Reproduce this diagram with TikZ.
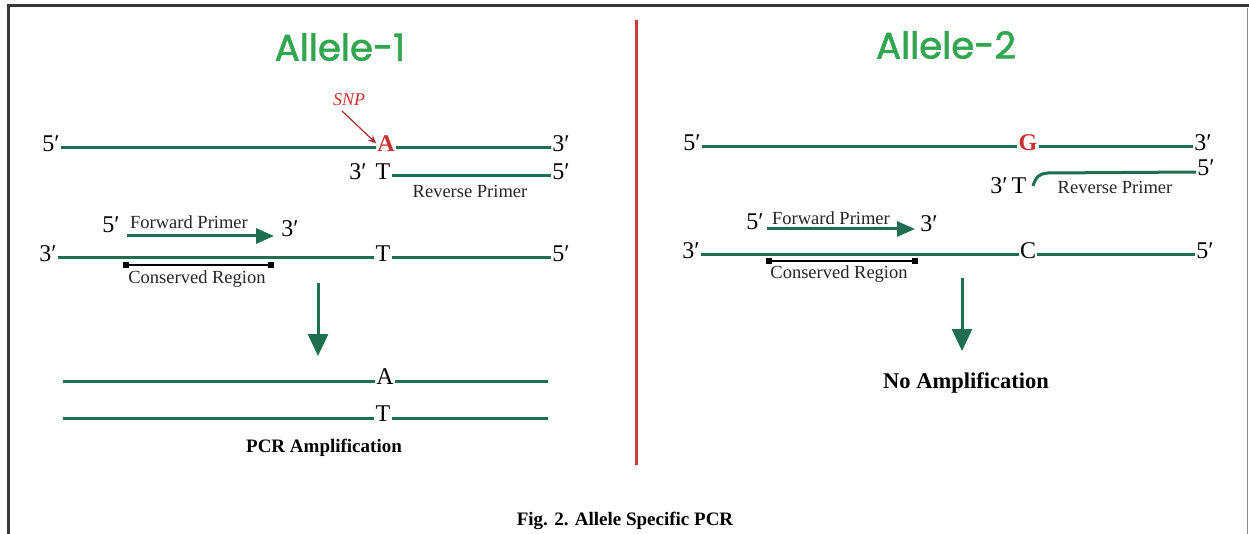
\documentclass[tikz,border=0pt]{standalone}
\usepackage{fontspec}
\setmainfont{Liberation Serif}
\newfontfamily\titlefont[FakeBold=1.6]{Poppins}
\usetikzlibrary{arrows.meta}
\definecolor{strandc}{RGB}{30,110,80}
\definecolor{titlec}{RGB}{50,165,80}
\definecolor{snpred}{RGB}{200,50,50}
\definecolor{divred}{RGB}{205,60,60}
\definecolor{framec}{RGB}{55,55,55}
\tikzset{
  lab/.style={font=\fontsize{24}{26}\selectfont, inner sep=1pt, text height=1.5ex, text depth=0pt},
  base/.style={lab, text=snpred, font=\fontsize{24}{26}\selectfont\bfseries},
  small/.style={font=\fontsize{18.5}{20}\selectfont, inner sep=0pt, text=black!85},
  bold/.style={font=\fontsize{19}{21}\selectfont\bfseries, inner sep=0pt},
  title/.style={font=\fontsize{37}{40}\selectfont\titlefont, text=titlec, inner sep=0pt},
  strand/.style={draw=strandc, line width=3pt},
  primer/.style={draw=strandc, line width=3pt, -{Triangle[length=18pt,width=15pt]}},
  down/.style={draw=strandc, line width=3pt, -{Triangle[length=22pt,width=20pt]}},
  bracket/.style={draw=black, line width=2.5pt},
}
\begin{document}
\begin{tikzpicture}[x=1pt,y=-1pt]
\useasboundingbox (0,0) rectangle (1249,534);
\fill[white] (0,0) rectangle (1249,534);
% frame
\draw[framec, line width=3pt] (8,534) -- (8,6) -- (1249,6);
\draw[black!45, line width=1pt] (1247,8) -- (1247,534);
% divider
\coordinate (dv1) at (636,20);
\coordinate (dv2) at (636,465);
\draw[divred, line width=3pt] (dv1) -- (dv2);

% ---------------- Allele-1 ----------------
\node[title] (t1) at (340,47) {Allele-1};
\node[font=\fontsize{18}{20}\selectfont\itshape, text=snpred, inner sep=0pt] (snp) at (349,100) {SNP};
\node[lab] (a5a) at (51,148) {5′};
\node[base] (aA) at (386,148) {A};
\node[lab] (a3a) at (561,148) {3′};
\draw[strand] (a5a.east) -- (aA.west);
\draw[strand] (aA.east) -- (a3a.west);
\coordinate (snpt) at (342,111);
\draw[snpred!85!black, line width=1.2pt, -{Stealth[length=8pt,width=7pt]}] (snpt) -- (aA.north west);

\node[lab] (a3b) at (358,176) {3′};
\node[lab] (aTb) at (383,176) {T};
\node[lab] (a5b) at (561,176) {5′};
\draw[strand] (aTb.east) -- (a5b.west);
\node[small] (arev) at (470,191) {Reverse Primer};

\node[lab] (a5f) at (111,229) {5′};
\node[small] (afwd) at (189,222) {Forward Primer};
\node[lab] (a3f) at (290,233) {3′};
\coordinate (af1) at (127,236);
\coordinate (af2) at (274,236);
\draw[primer] (af1) -- (af2);

\node[lab] (a3c) at (48,258) {3′};
\node[lab] (aTc) at (383,258) {T};
\node[lab] (a5c) at (561,258) {5′};
\draw[strand] (a3c.east) -- (aTc.west);
\draw[strand] (aTc.east) -- (a5c.west);

\coordinate (ab1) at (124,265);
\coordinate (ab2) at (273,265);
\draw[bracket] (ab1) -- (ab2);
\fill[black] ([shift={(-1,-3)}]ab1) rectangle ([shift={(5,3)}]ab1);
\fill[black] ([shift={(-5,-3)}]ab2) rectangle ([shift={(1,3)}]ab2);
\node[small] (acons) at (197,279) {Conserved Region};

\coordinate (ad1) at (318,283);
\coordinate (ad2) at (318,356);
\draw[down] (ad1) -- (ad2);

\coordinate (a5l) at (63,381);
\node[lab] (aA2) at (385,381) {A};
\coordinate (a5r) at (548,381);
\draw[strand] (a5l) -- (aA2.west);
\draw[strand] (aA2.east) -- (a5r);
\coordinate (a6l) at (63,418);
\node[lab] (aT2) at (383,418) {T};
\coordinate (a6r) at (548,418);
\draw[strand] (a6l) -- (aT2.west);
\draw[strand] (aT2.east) -- (a6r);

\node[bold] (pcr) at (324,448) {PCR Amplification};

% ---------------- Allele-2 ----------------
\node[title] (t2) at (946,45) {Allele-2};
\node[lab] (b5a) at (692,147) {5′};
\node[base] (bG) at (1028,147) {G};
\node[lab] (b3a) at (1203,147) {3′};
\draw[strand] (b5a.east) -- (bG.west);
\draw[strand] (bG.east) -- (b3a.west);

\node[lab] (b3b) at (999,190) {3′};
\node[lab] (bTb) at (1019,190) {T};
\node[lab] (b5b) at (1206,172) {5′};
\coordinate (bc1) at (1033,186);
\draw[strand] (bc1) .. controls (1036,177) and (1038,174) .. (1048,173) -- (b5b.west);
\node[small] (brev) at (1115,187) {Reverse Primer};

\node[lab] (b5f) at (755,226) {5′};
\node[small] (bfwd) at (831,218) {Forward Primer};
\node[lab] (b3f) at (929,228) {3′};
\coordinate (bf1) at (767,229);
\coordinate (bf2) at (915,229);
\draw[primer] (bf1) -- (bf2);

\node[lab] (b3c) at (691,255) {3′};
\node[lab] (bC) at (1028,255) {C};
\node[lab] (b5c) at (1205,255) {5′};
\draw[strand] (b3c.east) -- (bC.west);
\draw[strand] (bC.east) -- (b5c.west);

\coordinate (bb1) at (767,261);
\coordinate (bb2) at (917,261);
\draw[bracket] (bb1) -- (bb2);
\fill[black] ([shift={(-1,-3)}]bb1) rectangle ([shift={(5,3)}]bb1);
\fill[black] ([shift={(-5,-3)}]bb2) rectangle ([shift={(1,3)}]bb2);
\node[small] (bcons) at (839,274) {Conserved Region};

\coordinate (bd1) at (962,278);
\coordinate (bd2) at (962,351);
\draw[down] (bd1) -- (bd2);

\node[font=\fontsize{22.5}{24}\selectfont\bfseries, inner sep=0pt] (noamp) at (966,383) {No Amplification};

\node[bold] (cap) at (625,521) {Fig. 2. Allele Specific PCR};
\end{tikzpicture}
\end{document}
